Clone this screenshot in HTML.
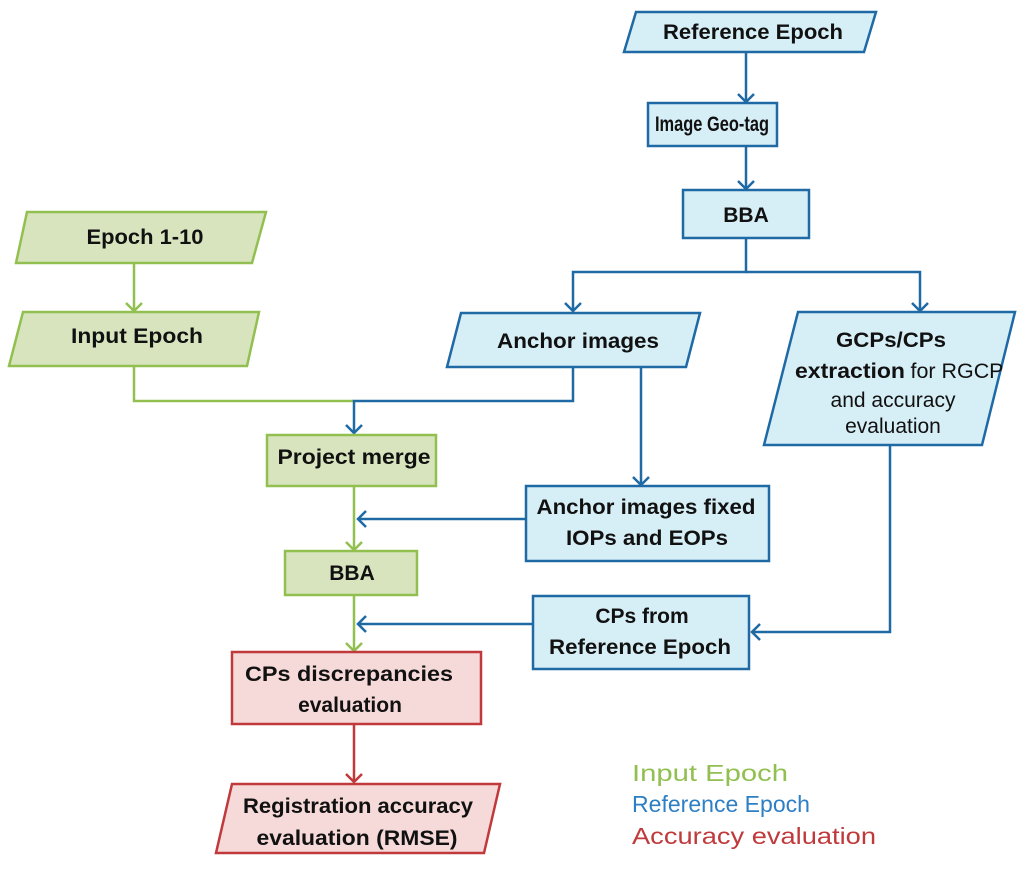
<!DOCTYPE html>
<html><head><meta charset="utf-8"><style>
html,body{margin:0;padding:0;background:#fff;}
svg{display:block;}
text{font-family:"Liberation Sans",sans-serif;font-size:21px;font-weight:bold;fill:#111;text-anchor:middle;}
.n{font-weight:normal;}
</style></head><body>
<svg width="1024" height="869" viewBox="0 0 1024 869" xmlns="http://www.w3.org/2000/svg">
<defs>
<marker id="ab" markerWidth="20" markerHeight="20" refX="9" refY="9" orient="auto" markerUnits="userSpaceOnUse"><path d="M1,1 L9,9 L1,17" fill="none" stroke="#1f6aa5" stroke-width="2.5"/></marker>
<marker id="ag" markerWidth="20" markerHeight="20" refX="9" refY="9" orient="auto" markerUnits="userSpaceOnUse"><path d="M1,1 L9,9 L1,17" fill="none" stroke="#92c050" stroke-width="2.5"/></marker>
<marker id="ar" markerWidth="20" markerHeight="20" refX="9" refY="9" orient="auto" markerUnits="userSpaceOnUse"><path d="M1,1 L9,9 L1,17" fill="none" stroke="#c0393b" stroke-width="2.5"/></marker>
</defs>

<g fill="none" stroke-width="2.5">
<path d="M746,52 V102" stroke="#1f6aa5" marker-end="url(#ab)"/>
<path d="M746,146 V189" stroke="#1f6aa5" marker-end="url(#ab)"/>
<path d="M746,238 V272 H573 V311" stroke="#1f6aa5" marker-end="url(#ab)"/>
<path d="M746,272 H920 V311" stroke="#1f6aa5" marker-end="url(#ab)"/>
<path d="M641,367 V485" stroke="#1f6aa5" marker-end="url(#ab)"/>
<path d="M134,263 V311" stroke="#92c050" marker-end="url(#ag)"/>
<path d="M134,367 V401 H354" stroke="#92c050"/>
<path d="M573,367 V401 H354 V433" stroke="#1f6aa5" marker-end="url(#ab)"/>
<path d="M354,486 V550" stroke="#92c050" marker-end="url(#ag)"/>
<path d="M526,519 H358" stroke="#1f6aa5" marker-end="url(#ab)"/>
<path d="M354,595 V651" stroke="#92c050" marker-end="url(#ag)"/>
<path d="M533,624 H358" stroke="#1f6aa5" marker-end="url(#ab)"/>
<path d="M890,445 V632 H752" stroke="#1f6aa5" marker-end="url(#ab)"/>
<path d="M354,724 V782" stroke="#c0393b" marker-end="url(#ar)"/>
</g>

<g fill="#d6eef6" stroke="#1f6aa5" stroke-width="2.5">
<polygon points="636,12 876,12 864,52 624,52"/>
<rect x="648" y="103" width="129" height="43"/>
<rect x="683" y="190" width="126" height="48"/>
<polygon points="461,313 700,313 686,367 447,367"/>
<polygon points="798,312 1015,312 982,445 764,445"/>
<rect x="526" y="486" width="243" height="75"/>
<rect x="533" y="596" width="216" height="73"/>
</g>
<g fill="#d7e4bd" stroke="#92c050" stroke-width="2.5">
<polygon points="27,212 266,212 252,263 16,263"/>
<polygon points="23,312 259,312 247,366 9,366"/>
<rect x="267" y="435" width="169" height="51"/>
<rect x="285" y="551" width="132" height="44"/>
</g>
<g fill="#f6d9d9" stroke="#c0393b" stroke-width="2.5">
<rect x="232" y="652" width="249" height="72"/>
<polygon points="232,784 500,784 484,853 216,853"/>
</g>

<text x="753" y="39" textLength="180" lengthAdjust="spacingAndGlyphs">Reference Epoch</text>
<text x="712" y="131" font-size="19" textLength="114" lengthAdjust="spacingAndGlyphs">Image Geo-tag</text>
<text x="746" y="222">BBA</text>
<text x="578" y="348" textLength="162" lengthAdjust="spacingAndGlyphs">Anchor images</text>
<text x="891" y="347" textLength="110" lengthAdjust="spacingAndGlyphs">GCPs/CPs</text>
<text x="850" y="378" textLength="110" lengthAdjust="spacingAndGlyphs">extraction</text>
<text x="957" y="378" class="n" font-size="19" textLength="93" lengthAdjust="spacingAndGlyphs">for RGCP</text>
<text x="893" y="407" class="n" font-size="18">and accuracy</text>
<text x="893" y="433" class="n" font-size="18">evaluation</text>
<text x="646" y="514" textLength="219" lengthAdjust="spacingAndGlyphs">Anchor images fixed</text>
<text x="647" y="545" textLength="162" lengthAdjust="spacingAndGlyphs">IOPs and EOPs</text>
<text x="642" y="623">CPs from</text>
<text x="640" y="654" textLength="182" lengthAdjust="spacingAndGlyphs">Reference Epoch</text>
<text x="145" y="244" textLength="117" lengthAdjust="spacingAndGlyphs">Epoch 1-10</text>
<text x="137" y="343" textLength="132" lengthAdjust="spacingAndGlyphs">Input Epoch</text>
<text x="354" y="464" textLength="153" lengthAdjust="spacingAndGlyphs">Project merge</text>
<text x="352" y="580">BBA</text>
<text x="349" y="681" textLength="208" lengthAdjust="spacingAndGlyphs">CPs discrepancies</text>
<text x="350" y="712">evaluation</text>
<text x="358" y="813" textLength="230" lengthAdjust="spacingAndGlyphs">Registration accuracy</text>
<text x="357" y="845" textLength="201" lengthAdjust="spacingAndGlyphs">evaluation (RMSE)</text>

<text x="632" y="781" class="n" style="text-anchor:start;fill:#92c050;font-size:23px" textLength="156" lengthAdjust="spacingAndGlyphs">Input Epoch</text>
<text x="632" y="812" class="n" style="text-anchor:start;fill:#2e7fc4;font-size:23px" textLength="178" lengthAdjust="spacingAndGlyphs">Reference Epoch</text>
<text x="632" y="844" class="n" style="text-anchor:start;fill:#c0393b;font-size:23px" textLength="244" lengthAdjust="spacingAndGlyphs">Accuracy evaluation</text>
</svg>
</body></html>
